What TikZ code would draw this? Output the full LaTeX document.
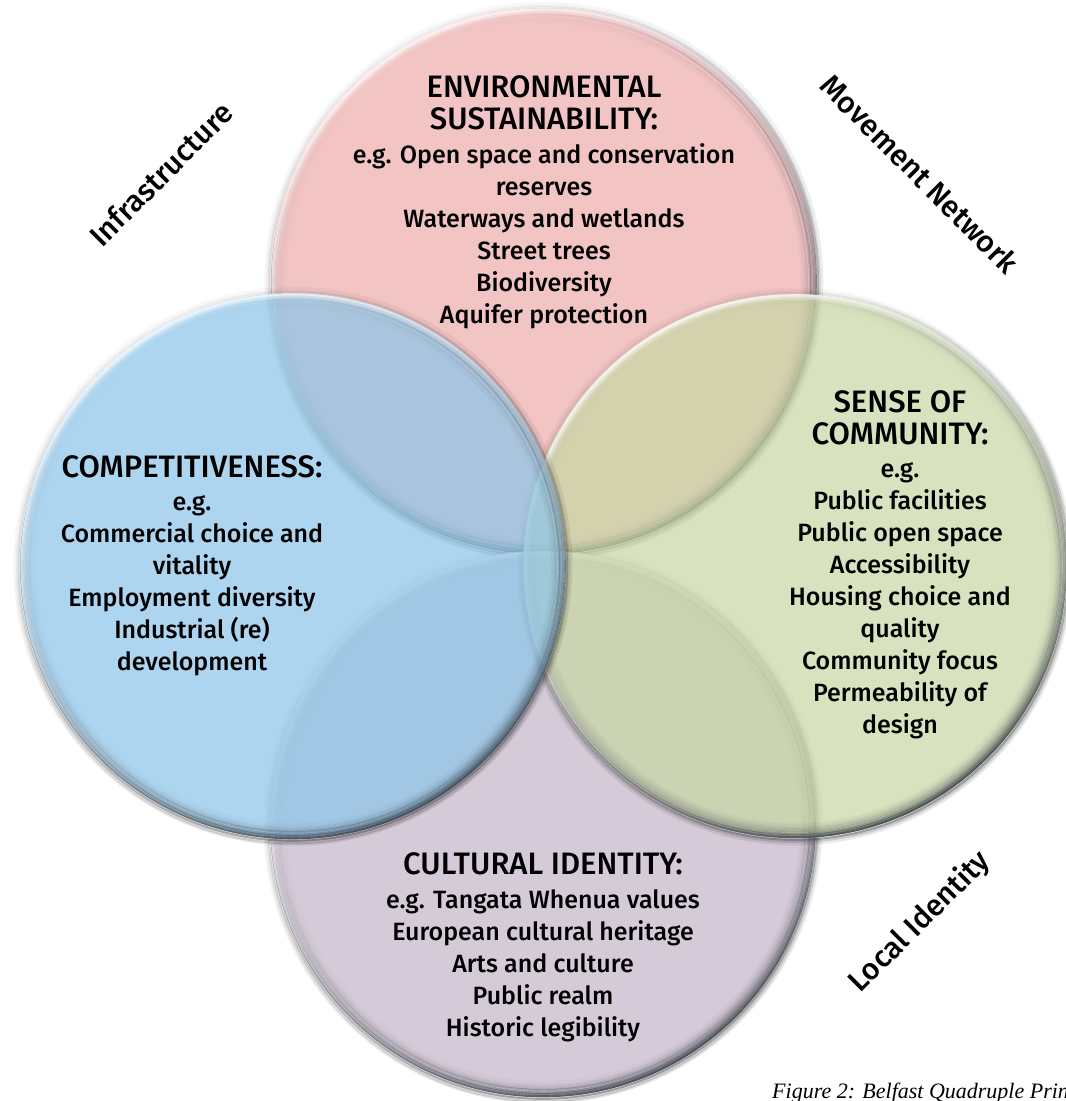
\documentclass[tikz,border=0pt]{standalone}
\usepackage{fontspec}
\setmainfont{Fira Sans}
\newfontfamily\medfont{Fira Sans Medium}
\newfontfamily\capfont{Liberation Serif}
\usetikzlibrary{fadings}

\definecolor{pinkc}{RGB}{242,196,196}
\definecolor{purplec}{RGB}{213,202,216}
\definecolor{bluec}{RGB}{142,198,233}
\definecolor{greenc}{RGB}{201,215,165}
\definecolor{rimdark}{RGB}{48,55,64}

\tikzfading[name=rimfade, top color=transparent!100, middle color=transparent!85, bottom color=transparent!0]

\newcommand\bevel[2]{%
  \foreach \d/\o in {1.5/0.07,3.5/0.035,5.5/0.02}{%
    \draw[black, line width=2pt, draw opacity=\o] (#1) circle[radius={#2pt+\d pt}];}
  \foreach \d/\o in {1.5/0.35,3.5/0.18,5.5/0.08}{%
    \draw[black, line width=2pt, draw opacity=\o, path fading=rimfade, fading angle=30] (#1) circle[radius={#2pt+\d pt}];}
  \foreach \d/\o in {1/0.8,3/0.6,5/0.45,7/0.32,9/0.21,11/0.12,13/0.06,15/0.03}{%
    \draw[rimdark, line width=2.1pt, draw opacity=\o, path fading=rimfade, fading angle=30] (#1) circle[radius={#2pt-\d pt}];}
  \foreach \d/\o in {1.5/0.8,3.5/0.5,5.5/0.25,7.5/0.1}{%
    \draw[white, line width=2.1pt, draw opacity=\o, path fading=rimfade, fading angle=210] (#1) circle[radius={#2pt-\d pt}];}
}

\tikzset{
  blk/.style={align=center, anchor=north, inner sep=0pt, text=black,
    font=\medfont\fontsize{25}{32}\selectfont},
  lbl/.style={inner sep=0pt, text=black, font=\medfont\fontsize{30}{34}\selectfont},
}
\newcommand\hd{\fontsize{31}{32}\selectfont}

\begin{document}
\begin{tikzpicture}[x=1pt,y=-1pt]
\useasboundingbox (0,0) rectangle (1066,1101);
\fill[white] (0,0) rectangle (1066,1101);

\coordinate (cT) at (544,281);
\coordinate (cB) at (543,824);
\coordinate (cR) at (795,566);
\coordinate (cL) at (293,566);

% top (pink)
\fill[pinkc] (cT) circle[radius=273pt];
\bevel{cT}{273}
% bottom (purple)
\fill[purplec] (cB) circle[radius=273pt];
\bevel{cB}{273}
% right (green)
\fill[greenc, fill opacity=0.72] (cR) circle[radius=272pt];
\bevel{cR}{272}
% left (blue)
\fill[bluec, fill opacity=0.72] (cL) circle[radius=273pt];
\bevel{cL}{273}

\node[blk] (env) at (544,75.5) {{\hd ENVIRONMENTAL}\\{\hd SUSTAINABILITY:}\\[2pt]
  e.g. Open space and conservation\\reserves\\Waterways and wetlands\\Street trees\\Biodiversity\\Aquifer protection};
\node[blk] (comp) at (192,455) {{\hd COMPETITIVENESS:}\\[1pt]
  e.g.\\Commercial choice and\\vitality\\Employment diversity\\Industrial (re)\\development};
\node[blk] (comm) at (900,390) {{\hd SENSE OF}\\{\hd COMMUNITY:}\\[1pt]
  e.g.\\Public facilities\\Public open space\\Accessibility\\Housing choice and\\quality\\Community focus\\Permeability of\\design};
\node[blk] (cult) at (543,852.5) {{\hd CULTURAL IDENTITY:}\\[2pt]
  e.g. Tangata Whenua values\\European cultural heritage\\Arts and culture\\Public realm\\Historic legibility};

\node[lbl, rotate=45] (infra) at (161,174) {Infrastructure};
\node[lbl, rotate=-45] (move) at (920,174) {Movement Network};
\node[lbl, rotate=45] (local) at (920,922) {Local Identity};

\node[anchor=base west, inner sep=0pt, font=\capfont\itshape\fontsize{22}{24}\selectfont] (cap) at (772,1098) {Figure 2: Belfast Quadruple Prin};
\end{tikzpicture}
\end{document}
